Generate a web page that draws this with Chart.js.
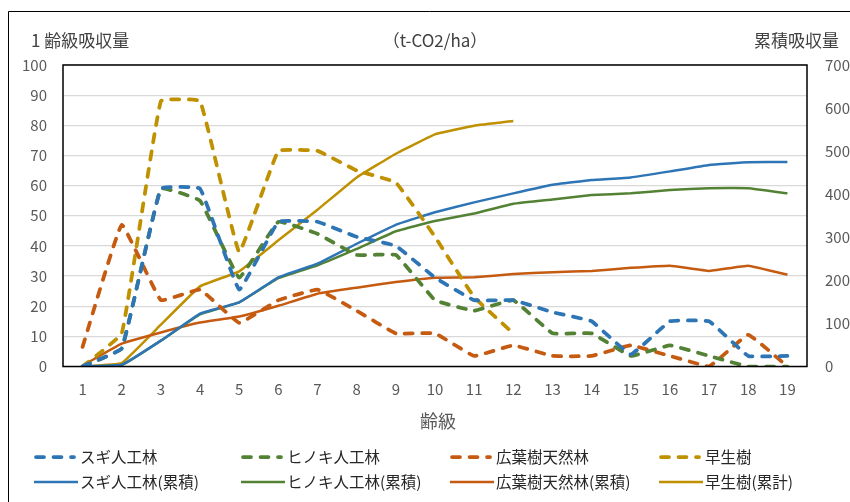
<!DOCTYPE html>
<html>
<head>
<meta charset="utf-8">
<script src="https://cdn.jsdelivr.net/npm/chart.js@4"></script>
<style>
  html, body { margin: 0; padding: 0; background: #fff; }
  #wrap { width: 850px; height: 502px; position: relative; }
</style>
</head>
<body>
<div id="wrap"><canvas id="chart"></canvas></div>
<script>
// 齢級
const ageClasses = ['1', '2', '3', '4', '5', '6', '7', '8', '9', '10', '11', '12', '13', '14', '15', '16', '17', '18', '19'];

// 1齢級吸収量 (left axis)
const sugi = [0, 6, 59, 59, 25.5, 48, 48, 43, 40, 29.5, 22, 22, 18, 15, 4, 15, 15, 3.5, 3.5];
const hinoki = [0, 6, 59, 55, 29.5, 48, 44, 37, 37, 22, 18.5, 22, 11, 11, 3.5, 7, 3.5, 0, 0];
const kouyou = [6.5, 47, 22, 25.5, 14.5, 22, 25.5, 18.5, 11, 11, 3.5, 7, 3.5, 3.5, 7, 3.5, 0, 10.5, 0];
const sousei = [0, 11, 88, 88, 38, 71.5, 71.5, 65, 61, 43, 23, 11, null, null, null, null, null, null, null];

// 累積吸収量 (right axis)
const sugiCum = [0, 4, 60, 123, 149, 207, 239, 285, 329, 358, 381, 402, 422, 433, 439, 453, 468, 474, 475];
const hinokiCum = [0, 3, 60, 121, 149, 205, 235, 273, 314, 338, 355, 378, 388, 398, 402, 410, 414, 414, 402];
const kouyouCum = [2, 53, 79, 102, 116, 141, 169, 183, 196, 206, 207, 215, 219, 222, 229, 234, 222, 234, 213];
const souseiCum = [0, 8, 97, 186, 221, 293, 364, 439, 494, 539, 559, 570, null, null, null, null, null, null, null];

const leftTicks = [0, 10, 20, 30, 40, 50, 60, 70, 80, 90, 100];
const rightTicks = [0, 100, 200, 300, 400, 500, 600, 700];

const BLUE = '#2E75B6';
const GREEN = '#548235';
const ORANGE = '#C55A11';
const GOLD = '#BF9000';
const FONT = '"Noto Sans CJK JP", "Noto Sans", sans-serif';

function dashed(label, data, color) {
    return {
        label: label, data: data, yAxisID: 'y',
        borderColor: color, backgroundColor: color,
        borderWidth: 3.75, borderDash: [8, 9.5], borderCapStyle: 'round',
        borderJoinStyle: 'round', pointRadius: 0, tension: 0.08, spanGaps: false
    };
}
function solid(label, data, color) {
    return {
        label: label, data: data, yAxisID: 'y2',
        borderColor: color, backgroundColor: color,
        borderWidth: 2.5, borderJoinStyle: 'round', pointRadius: 0, tension: 0.08
    };
}

// frame, titles, plot box and legend
const decor = {
    id: 'decor',
    afterDraw(chart) {
        const ctx = chart.ctx;
        const a = chart.chartArea;
        ctx.save();
        // outer frame (left and top only)
        ctx.strokeStyle = '#000';
        ctx.lineWidth = 1;
        ctx.beginPath();
        ctx.moveTo(8.5, 502);
        ctx.lineTo(8.5, 11.5);
        ctx.lineTo(850, 11.5);
        ctx.stroke();
        // plot box
        ctx.lineWidth = 1.5;
        ctx.strokeRect(a.left, a.top, a.right - a.left, a.bottom - a.top);

        // titles
        ctx.fillStyle = '#404040';
        ctx.font = '17px ' + FONT;
        ctx.textBaseline = 'middle';
        ctx.textAlign = 'left';
        ctx.fillText('1 齢級吸収量', 31, 41);
        ctx.textAlign = 'center';
        ctx.fillText('（t-CO2/ha）', 435, 41);
        ctx.textAlign = 'right';
        ctx.fillText('累積吸収量', 839, 41);
        ctx.font = '18px ' + FONT;
        ctx.fillStyle = '#595959';
        ctx.textAlign = 'center';
        ctx.fillText('齢級', 438, 421);

        // legend
        const cols = [34, 241, 450, 659];
        const rows = [457, 482];
        ctx.font = '15.5px ' + FONT;
        ctx.fillStyle = '#262626';
        ctx.textAlign = 'left';
        chart.data.datasets.forEach((ds, i) => {
            const col = i % 4;
            const row = Math.floor(i / 4);
            const x = cols[col];
            const y = rows[row];
            ctx.strokeStyle = ds.borderColor;
            ctx.lineWidth = ds.borderWidth;
            ctx.lineCap = ds.borderCapStyle || 'butt';
            ctx.setLineDash(ds.borderDash || []);
            ctx.beginPath();
            if (row === 0) {
                ctx.moveTo(x + 2, y);
                ctx.lineTo(x + 40, y);
            } else {
                ctx.moveTo(x, y);
                ctx.lineTo(x + 44, y);
            }
            ctx.stroke();
            ctx.setLineDash([]);
            ctx.fillText(ds.label, x + 46, y);
        });
        ctx.restore();
    }
};

const ctx = document.getElementById('chart').getContext('2d');
new Chart(ctx, {
    type: 'line',
    data: {
        labels: ageClasses,
        datasets: [
            dashed('スギ人工林', sugi, BLUE),
            dashed('ヒノキ人工林', hinoki, GREEN),
            dashed('広葉樹天然林', kouyou, ORANGE),
            dashed('早生樹', sousei, GOLD),
            solid('スギ人工林(累積)', sugiCum, BLUE),
            solid('ヒノキ人工林(累積)', hinokiCum, GREEN),
            solid('広葉樹天然林(累積)', kouyouCum, ORANGE),
            solid('早生樹(累計)', souseiCum, GOLD)
        ]
    },
    options: {
        responsive: true,
        maintainAspectRatio: false,
        animation: false,
        layout: { padding: { top: 65, bottom: 0, left: 0, right: 0 } },
        plugins: { legend: { display: false }, tooltip: { enabled: false } },
        scales: {
            x: {
                offset: true,
                grid: { display: false, drawTicks: false },
                border: { display: false },
                ticks: { color: '#595959', font: { family: FONT, size: 15 }, padding: 14, maxRotation: 0 },
                afterFit: s => { s.height = 502 - 366.5; }
            },
            y: {
                position: 'left',
                min: 0, max: 100,
                afterBuildTicks: s => { s.ticks = leftTicks.map(v => ({ value: v })); },
                grid: { color: '#d9d9d9', lineWidth: 1.2, drawTicks: false },
                border: { display: false },
                ticks: { color: '#595959', font: { family: FONT, size: 15 }, padding: 16 },
                afterFit: s => { s.width = 63; }
            },
            y2: {
                position: 'right',
                min: 0, max: 700,
                afterBuildTicks: s => { s.ticks = rightTicks.map(v => ({ value: v })); },
                grid: { display: false, drawTicks: false },
                border: { display: false },
                ticks: { color: '#595959', font: { family: FONT, size: 15 }, padding: 18 },
                afterFit: s => { s.width = 43; }
            }
        }
    },
    plugins: [decor]
});
</script>
</body>
</html>
